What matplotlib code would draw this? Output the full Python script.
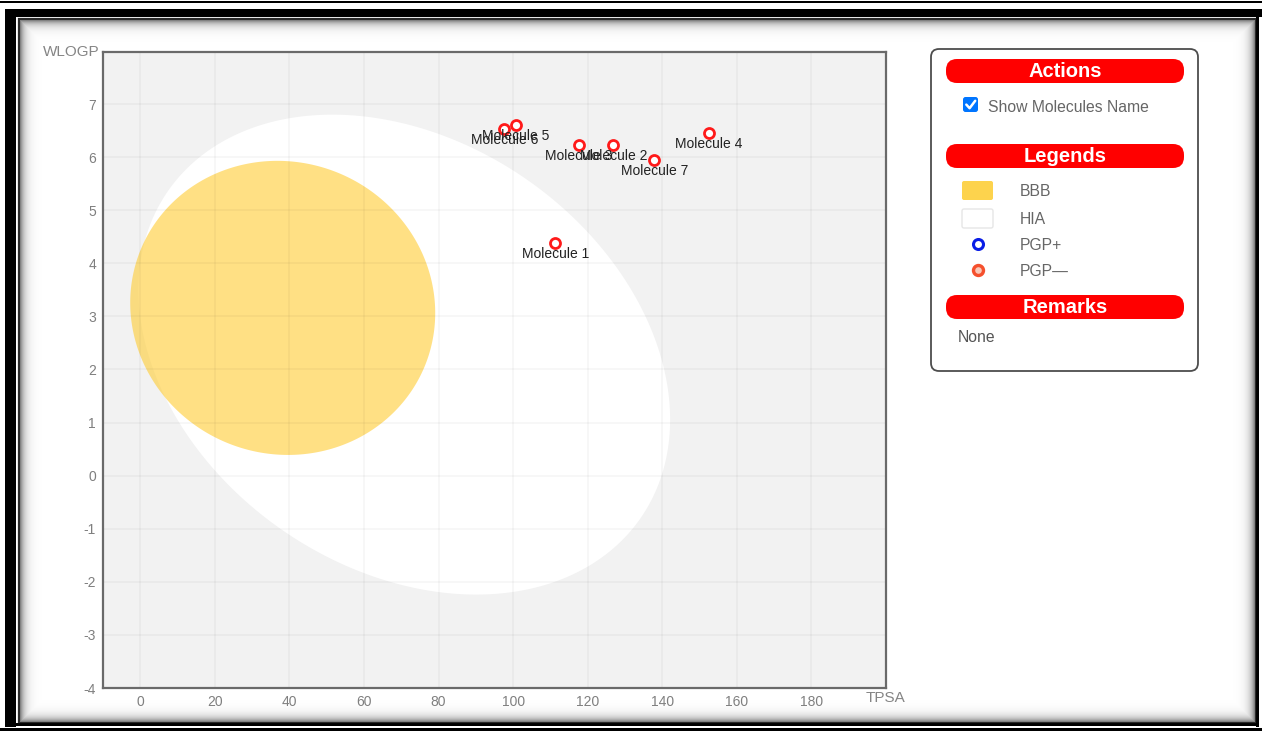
import numpy as np
import matplotlib
matplotlib.use("Agg")
import matplotlib.pyplot as plt
from matplotlib.patches import Rectangle, FancyBboxPatch, Polygon

plt.rcParams['font.family'] = ['Liberation Sans', 'DejaVu Sans']
plt.rcParams['axes.unicode_minus'] = False

# ---------------- data ----------------
molecules = ['Molecule 1', 'Molecule 2', 'Molecule 3', 'Molecule 4',
             'Molecule 5', 'Molecule 6', 'Molecule 7']
tpsa = [111.3, 126.9, 117.7, 152.4, 100.8, 97.6, 137.9]
wlogp = [4.38, 6.23, 6.23, 6.45, 6.60, 6.53, 5.95]

x_ticks = list(range(0, 181, 20))
y_ticks = list(range(-4, 8))

# egg regions (center x, center y, x half-extent, y half-extent, phase in deg)
hia = dict(cx=70.8, cy=2.28, rx=71.3, ry=4.52, phase=105.7)
bbb = dict(cx=38.2, cy=3.16, rx=40.9, ry=2.77, phase=92.0)

legend_labels = ['BBB', 'HIA', 'PGP+', 'PGP\u2014']

W, H = 1262, 731
fig = plt.figure(figsize=(W / 100, H / 100), dpi=100)
fig.patch.set_facecolor('white')

# ---------------- background frame (pixel coords) ----------------
bg = fig.add_axes([0, 0, 1, 1])
bg.set_xlim(0, W)
bg.set_ylim(H, 0)
bg.axis('off')
bg.set_zorder(0)

k = 'black'
bg.add_patch(Rectangle((0, 0.8), W, 2.6, fc=k, ec='none'))
bg.add_patch(Rectangle((5, 8.6), W - 5, 8.2, fc=k, ec='none'))
bg.add_patch(Rectangle((5, 8.6), 11, 718, fc=k, ec='none'))
bg.add_patch(Rectangle((1256, 16), 3.4, 710.5, fc=k, ec='none'))
bg.add_patch(Rectangle((5, 722.6), 1254.4, 3.8, fc=k, ec='none'))
bg.add_patch(Rectangle((0, 728.3), W, 2.7, fc=k, ec='none'))
# inner dark line
bg.add_patch(Rectangle((18.8, 18.8), 1236.4, 703.5, fc='none', ec='#2a2a2a', lw=1.6))

# inner shadow
x0, x1, y0, y1 = 20, 1255, 20, 722
xs = np.arange(x0, x1) + 0.5
ys = np.arange(y0, y1) + 0.5
XX, YY = np.meshgrid(xs, ys)
d = np.minimum.reduce([XX - x0, x1 - XX, YY - y0, y1 - YY])
dark = 0.55 * np.exp(-d / 4.5)
img = 1 - dark
bg.imshow(img, cmap='gray', vmin=0, vmax=1, extent=[x0, x1, y1, y0],
          interpolation='bilinear', zorder=1, aspect='auto')

# ---------------- main scatter axes ----------------
L, R, T, B = 103, 886, 52, 688
ax = fig.add_axes([L / W, 1 - B / H, (R - L) / W, (B - T) / H])
ax.set_zorder(2)
ax.set_facecolor('#f2f2f2')
ax.set_xlim(-10, 200)
ax.set_ylim(-4, 7.98)


def egg_part(p, n=400):
    t = np.linspace(0, 2 * np.pi, n)
    ph = np.deg2rad(p['phase'])
    return np.column_stack([p['cx'] + p['rx'] * np.cos(t),
                            p['cy'] + p['ry'] * np.cos(t - ph)])


ax.add_patch(Polygon(egg_part(hia), closed=True, fc='white', ec='none', zorder=1))
ax.add_patch(Polygon(egg_part(bbb), closed=True, fc='#ffcc33', alpha=0.6, ec='none', zorder=2))

ax.set_xticks(x_ticks)
ax.set_yticks(y_ticks)
ax.grid(True, color='black', alpha=0.045, lw=1.1, zorder=3)
ax.set_axisbelow(False)
ax.tick_params(length=0, labelsize=10, colors='#7f7f7f', pad=5)
for s in ax.spines.values():
    s.set_color('#6a6a6a')
    s.set_linewidth(1.6)
    s.set_zorder(6)

ax.plot(tpsa, wlogp, 'o', ms=7.2, mfc='white', mec='#ff1a1a', mew=2.0,
        ls='none', zorder=5)
for name, xv, yv in zip(molecules, tpsa, wlogp):
    ax.annotate(name, (xv, yv), xytext=(0, -8), textcoords='offset points',
                ha='center', va='center', fontsize=10, color='#222222', zorder=6)

fig.text(100 / W, 1 - 52 / H, 'WLOGP', ha='right', va='center', fontsize=11,
         color='#858585')
fig.text(886 / W, 1 - 698 / H, 'TPSA', ha='center', va='center', fontsize=11,
         color='#858585')

# ---------------- side panel ----------------
bg.add_patch(FancyBboxPatch((931, 49), 267, 322,
                            boxstyle='round,pad=0,rounding_size=8',
                            fc='white', ec='#4d4d4d', lw=1.3, zorder=3))

for label, ytop in [('Actions', 59), ('Legends', 144), ('Remarks', 295)]:
    bg.add_patch(FancyBboxPatch((946, ytop), 238, 24,
                                boxstyle='round,pad=0,rounding_size=11',
                                fc='#ff0000', ec='none', zorder=4))
    bg.text(1065, ytop + 12.5, label, ha='center', va='center', color='white',
            fontsize=14.5, fontweight='bold', zorder=5)

# checkbox
bg.add_patch(FancyBboxPatch((963, 97), 15, 15,
                            boxstyle='round,pad=0,rounding_size=2.5',
                            fc='#0075ff', ec='none', zorder=4))
bg.plot([966.3, 969.6, 975.2], [104.6, 108.2, 100.8], color='white', lw=1.8,
        solid_capstyle='round', solid_joinstyle='round', zorder=5)
bg.text(988, 108, 'Show Molecules Name', ha='left', va='center', fontsize=11.3,
        color='#666666', zorder=5)

# legend items
bg.add_patch(FancyBboxPatch((962, 181), 31, 19,
                            boxstyle='round,pad=0,rounding_size=2',
                            fc='#fdd34d', ec='none', zorder=4))
bg.add_patch(FancyBboxPatch((962, 209), 31, 19,
                            boxstyle='round,pad=0,rounding_size=2',
                            fc='white', ec='#e6e6e6', lw=1, zorder=4))
bg.plot([978], [244], 'o', ms=7.2, mfc='white', mec='#0a1ee6', mew=2.2, zorder=5)
bg.plot([978], [270], 'o', ms=7.2, mfc='#f8c8b8', mec='#f5502d', mew=2.4, zorder=5)
for lab, yy in zip(legend_labels, [191, 219, 245, 272]):
    bg.text(1020, yy, lab, ha='left', va='center', fontsize=11.3,
            color='#666666', zorder=5)

bg.text(958, 337, 'None', ha='left', va='center', fontsize=11.3,
        color='#555555', zorder=5)

fig.savefig('out.png', dpi=100, facecolor='white')
